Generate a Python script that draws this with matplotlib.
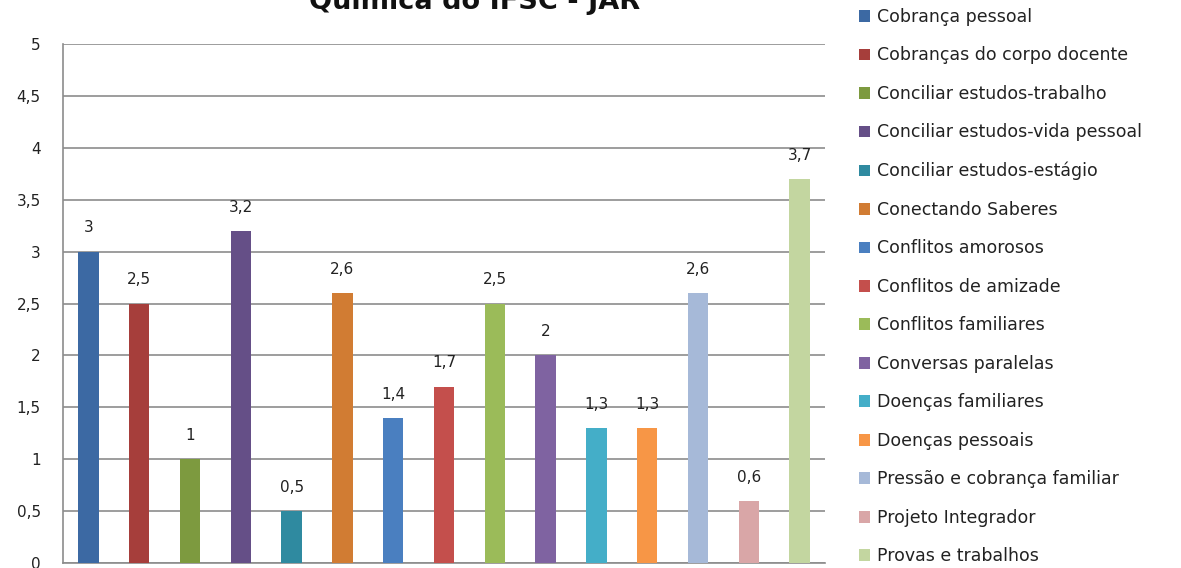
import matplotlib
matplotlib.use("Agg")
import matplotlib.pyplot as plt

# chart data
categories = ["Cobrança pessoal", "Cobranças do corpo docente", "Conciliar estudos-trabalho",
              "Conciliar estudos-vida pessoal", "Conciliar estudos-estágio", "Conectando Saberes",
              "Conflitos amorosos", "Conflitos de amizade", "Conflitos familiares",
              "Conversas paralelas", "Doenças familiares", "Doenças pessoais",
              "Pressão e cobrança familiar", "Projeto Integrador", "Provas e trabalhos"]
values = [3, 2.5, 1, 3.2, 0.5, 2.6, 1.4, 1.7, 2.5, 2, 1.3, 1.3, 2.6, 0.6, 3.7]
colors = ["#3C69A3", "#A63E3B", "#7D9A3F", "#654F87", "#2F8AA0", "#D17C33",
          "#4A7FC0", "#C44F4C", "#9BBB59", "#7F63A1", "#44AEC8", "#F79646",
          "#A6B9D8", "#D9A6A7", "#C3D6A0"]
yticks = [0, 0.5, 1, 1.5, 2, 2.5, 3, 3.5, 4, 4.5, 5]
title = "Química do IFSC - JAR"

plt.rcParams['font.family'] = ['DejaVu Sans']

fig = plt.figure(figsize=(11.81, 5.68), dpi=100)
ax = fig.add_axes([63/1181, 1 - 563/568, (825 - 63)/1181, (563 - 44)/568])

bars = []
for i, (cat, v, c) in enumerate(zip(categories, values, colors)):
    b = ax.bar(i, v, width=0.4, color=c, label=cat, zorder=3)
    bars.append(b)
    ax.annotate(f"{v:g}".replace(".", ","), (i, v), xytext=(0, 17), textcoords="offset points",
                ha="center", va="center", fontsize=11, color="#222222")

ax.set_xlim(-0.5, 14.5)
ax.set_ylim(0, 5)
ax.set_yticks(yticks)
ax.set_yticklabels([f"{t:g}".replace(".", ",") for t in yticks], fontsize=11, color="#222222")
ax.set_xticks([])
ax.tick_params(axis="y", length=0, pad=16)
ax.yaxis.grid(True, color="#8c8c8c", linewidth=1.2, zorder=0)
ax.set_axisbelow(True)
for s in ["top", "right"]:
    ax.spines[s].set_visible(False)
for s in ["left", "bottom"]:
    ax.spines[s].set_color("#8c8c8c")
    ax.spines[s].set_linewidth(1.2)

fig.text(475/1181, 1 - 9/568, title, ha="center", va="baseline",
         fontsize=19.5, fontweight="bold", color="#111111")

fig.legend(handles=bars, labels=categories, loc="upper left",
           bbox_to_anchor=(859/1181, 1 - 8/568), frameon=False, fontsize=12.5,
           handlelength=0.65, handleheight=0.65, handletextpad=0.4,
           labelspacing=1.18, borderpad=0, borderaxespad=0, labelcolor="#222222")

fig.savefig("out.png", dpi=100)
